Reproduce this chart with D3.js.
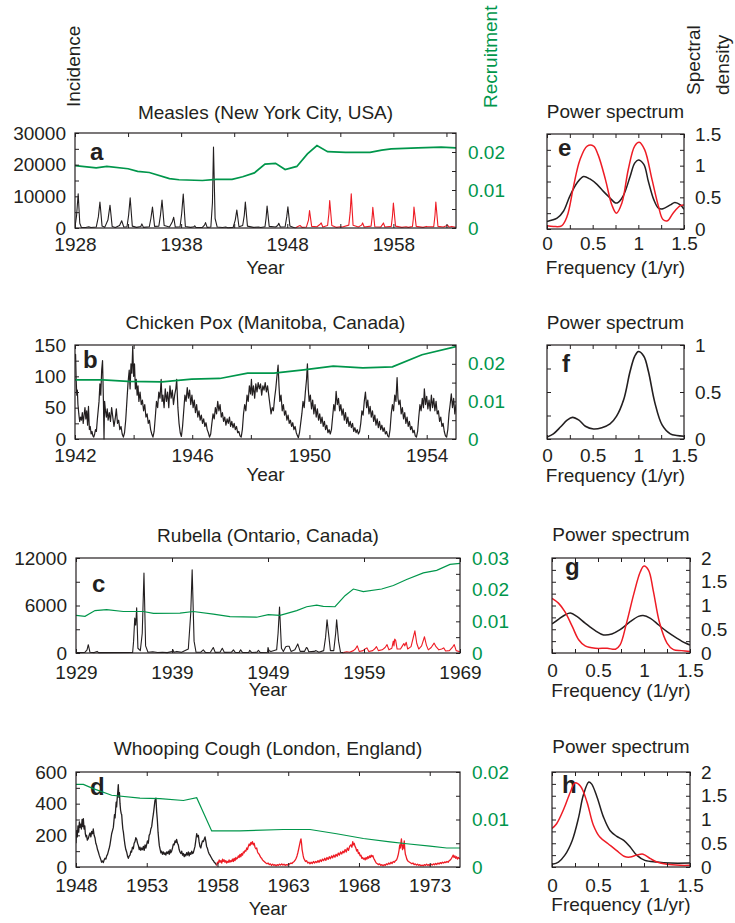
<!DOCTYPE html>
<html>
<head>
<meta charset="utf-8">
<script src="https://cdn.jsdelivr.net/npm/d3@7"></script>
<style>
  body { margin: 0; background: #fff; }
  text { font-family: "Liberation Sans", Arial, Helvetica, sans-serif; }
</style>
</head>
<body>
<script>
// ---------------- Measles (New York City) ----------------
const measlesEarly = [[1928.0,300],[1928.15,4000],[1928.3,10800],[1928.45,1500],[1928.6,200],[1929.0,150],[1929.3,400],[1929.5,150],[1930.0,300],[1930.2,3500],[1930.35,8200],[1930.55,600],[1930.8,200],[1931.1,2500],[1931.3,7200],[1931.5,500],[1931.8,150],[1932.2,800],[1932.4,2300],[1932.6,300],[1932.9,400],[1933.05,4000],[1933.2,9500],[1933.4,600],[1933.8,200],[1934.2,500],[1934.3,1300],[1934.45,200],[1935.0,400],[1935.15,3000],[1935.3,6600],[1935.5,500],[1935.9,600],[1936.05,4000],[1936.2,8800],[1936.4,800],[1936.9,300],[1937.15,1800],[1937.3,3400],[1937.45,300],[1937.9,400],[1938.05,4500],[1938.2,10700],[1938.4,500],[1938.9,200],[1939.2,400],[1939.28,700],[1939.4,150],[1940.0,200],[1940.2,900],[1940.3,1700],[1940.45,200],[1940.8,300],[1940.95,8000],[1941.05,25600],[1941.2,3000],[1941.4,300],[1941.9,150],[1942.2,300],[1942.4,100],[1942.9,200],[1943.1,2500],[1943.25,5700],[1943.45,400],[1943.8,800],[1943.95,4000],[1944.05,8200],[1944.25,600],[1944.8,200],[1945.3,300],[1945.5,150],[1945.9,400],[1946.0,3000],[1946.1,6900],[1946.3,500],[1946.9,300],[1947.1,800],[1947.2,1500],[1947.35,300],[1947.8,400],[1947.95,3500],[1948.06,6700],[1948.25,600],[1948.6,150],[1948.8,100]];
const measlesLate = [[1948.8,100],[1949.0,500],[1949.2,800],[1949.4,200],[1949.8,300],[1950.0,2500],[1950.1,5500],[1950.3,500],[1950.8,400],[1951.1,1200],[1951.2,1600],[1951.35,300],[1951.8,800],[1951.92,4500],[1952.0,8700],[1952.2,800],[1952.6,200],[1953.0,400],[1953.2,300],[1953.8,900],[1953.93,5000],[1954.03,10800],[1954.2,900],[1954.7,300],[1955.0,900],[1955.1,1600],[1955.25,300],[1955.9,600],[1956.0,3500],[1956.06,6500],[1956.25,400],[1956.8,300],[1957.0,1200],[1957.06,1600],[1957.2,300],[1957.8,500],[1957.92,4000],[1958.0,7900],[1958.2,600],[1958.8,200],[1959.2,400],[1959.4,200],[1959.8,500],[1959.88,3000],[1959.94,6600],[1960.15,500],[1960.8,200],[1961.1,500],[1961.2,400],[1961.8,400],[1961.92,4000],[1962.0,8200],[1962.2,500],[1962.7,300],[1963.0,700],[1963.1,900],[1963.25,300],[1963.5,500],[1963.9,200]];
const measlesRecruit = [[1928.0,0.0164],[1930.0,0.0158],[1931.0,0.0162],[1933.0,0.0156],[1933.9,0.0149],[1935.0,0.0146],[1936.9,0.0130],[1937.8,0.0127],[1940.0,0.0125],[1941.3,0.0128],[1942.8,0.0128],[1943.8,0.0135],[1944.9,0.0145],[1945.9,0.0168],[1946.9,0.0170],[1947.8,0.0154],[1948.9,0.0162],[1949.9,0.0195],[1950.8,0.0217],[1951.8,0.0201],[1953.5,0.0199],[1955.8,0.0199],[1956.9,0.0205],[1957.8,0.0208],[1960.3,0.0211],[1962.5,0.0213],[1963.9,0.0211]];

// ---------------- Chicken pox (Manitoba) ----------------
const chickenpoxCases = [
  [1942.00,128],[1942.02,135],[1942.04,95],[1942.06,70],[1942.08,78],[1942.10,55],[1942.13,40],[1942.16,28],[1942.19,35],[1942.22,30],[1942.25,42],[1942.28,25],[1942.31,38],[1942.34,50],[1942.37,32],[1942.40,45],[1942.43,22],[1942.46,52],[1942.49,15],[1942.52,20],[1942.55,8],[1942.58,12],[1942.61,5],[1942.64,3],[1942.67,8],[1942.70,15],[1942.73,12],[1942.76,30],[1942.79,45],[1942.82,60],[1942.85,88],[1942.88,70],[1942.91,110],[1942.94,125],[1942.97,60],[1942.99,0],[1943.01,60],
  [1943.04,45],[1943.07,35],[1943.10,48],[1943.13,30],[1943.17,42],[1943.21,28],[1943.25,50],[1943.29,35],[1943.33,20],[1943.37,32],[1943.41,48],[1943.45,25],[1943.49,30],[1943.53,15],[1943.57,20],[1943.61,8],[1943.65,3],[1943.69,10],[1943.73,30],[1943.77,60],[1943.81,90],[1943.85,110],[1943.88,80],[1943.91,120],[1943.94,105],[1943.97,148],[1944.00,100],
  [1944.03,120],[1944.06,80],[1944.09,95],[1944.12,70],[1944.15,85],[1944.18,60],[1944.22,75],[1944.26,55],[1944.30,62],[1944.34,45],[1944.38,55],[1944.42,35],[1944.46,40],[1944.50,25],[1944.54,30],[1944.58,15],[1944.62,8],[1944.66,3],[1944.70,12],[1944.74,35],[1944.78,60],[1944.82,50],[1944.86,75],[1944.90,65],[1944.94,95],[1944.97,60],[1945.00,70],
  [1945.04,50],[1945.08,80],[1945.12,60],[1945.16,75],[1945.20,50],[1945.24,85],[1945.28,65],[1945.32,78],[1945.36,55],[1945.40,70],[1945.44,80],[1945.47,95],[1945.51,50],[1945.55,25],[1945.59,10],[1945.63,4],[1945.67,20],[1945.71,45],[1945.75,70],[1945.79,60],[1945.83,82],[1945.87,65],[1945.91,78],[1945.95,55],[1945.99,70],
  [1946.03,50],[1946.07,62],[1946.11,42],[1946.15,55],[1946.19,35],[1946.23,45],[1946.27,30],[1946.31,38],[1946.35,25],[1946.39,32],[1946.43,20],[1946.47,26],[1946.51,15],[1946.55,10],[1946.59,3],[1946.63,8],[1946.67,25],[1946.71,40],[1946.75,32],[1946.79,50],[1946.83,40],[1946.87,60],[1946.91,45],[1946.95,55],[1946.99,35],
  [1947.03,42],[1947.07,28],[1947.11,35],[1947.15,22],[1947.19,32],[1947.23,25],[1947.27,35],[1947.31,20],[1947.35,28],[1947.39,18],[1947.43,25],[1947.47,15],[1947.51,20],[1947.55,10],[1947.59,12],[1947.63,5],[1947.67,3],[1947.71,15],[1947.75,40],[1947.79,55],[1947.83,45],[1947.87,70],[1947.91,60],[1947.95,85],[1947.99,72],[1948.02,95],
  [1948.05,70],[1948.09,85],[1948.13,65],[1948.17,88],[1948.21,75],[1948.25,90],[1948.29,80],[1948.33,88],[1948.37,70],[1948.41,85],[1948.45,78],[1948.49,90],[1948.53,75],[1948.57,85],[1948.61,70],[1948.65,55],[1948.69,40],[1948.73,50],[1948.77,45],[1948.81,65],[1948.85,80],[1948.89,100],[1948.93,118],[1948.96,85],[1948.99,60],
  [1949.03,70],[1949.07,45],[1949.11,55],[1949.15,38],[1949.19,45],[1949.23,30],[1949.27,38],[1949.31,25],[1949.35,30],[1949.39,20],[1949.43,26],[1949.47,15],[1949.51,20],[1949.55,10],[1949.59,5],[1949.62,2],[1949.66,10],[1949.70,25],[1949.74,40],[1949.78,60],[1949.82,50],[1949.86,75],[1949.90,95],[1949.93,120],[1949.96,80],[1949.99,60],
  [1950.03,70],[1950.07,48],[1950.11,62],[1950.15,40],[1950.19,55],[1950.23,35],[1950.27,48],[1950.31,30],[1950.35,40],[1950.39,25],[1950.43,35],[1950.47,20],[1950.51,28],[1950.55,15],[1950.59,22],[1950.63,10],[1950.67,15],[1950.71,8],[1950.75,15],[1950.79,35],[1950.83,55],[1950.87,45],[1950.91,76],[1950.95,55],[1950.99,65],
  [1951.03,45],[1951.07,55],[1951.11,38],[1951.15,48],[1951.19,30],[1951.23,42],[1951.27,25],[1951.31,35],[1951.35,20],[1951.39,28],[1951.43,18],[1951.47,25],[1951.51,12],[1951.55,18],[1951.59,10],[1951.63,15],[1951.67,8],[1951.71,12],[1951.75,25],[1951.79,45],[1951.83,38],[1951.87,60],[1951.91,75],[1951.95,50],[1951.99,62],
  [1952.03,40],[1952.07,52],[1952.11,35],[1952.15,45],[1952.19,28],[1952.23,38],[1952.27,22],[1952.31,32],[1952.35,18],[1952.39,28],[1952.43,15],[1952.47,22],[1952.51,12],[1952.55,18],[1952.59,8],[1952.63,12],[1952.67,5],[1952.71,3],[1952.75,15],[1952.79,40],[1952.83,55],[1952.87,45],[1952.91,70],[1952.95,60],[1952.99,98],
  [1953.02,65],[1953.05,55],[1953.09,62],[1953.13,40],[1953.17,50],[1953.21,32],[1953.25,42],[1953.29,25],[1953.33,35],[1953.37,20],[1953.41,28],[1953.45,15],[1953.49,20],[1953.53,10],[1953.57,14],[1953.61,5],[1953.65,3],[1953.69,12],[1953.73,35],[1953.77,55],[1953.81,45],[1953.85,65],[1953.89,50],[1953.92,80],[1953.96,55],
  [1954.00,68],[1954.04,48],[1954.08,62],[1954.12,45],[1954.16,70],[1954.20,50],[1954.24,65],[1954.28,45],[1954.32,60],[1954.36,40],[1954.40,45],[1954.44,28],[1954.48,35],[1954.52,20],[1954.56,25],[1954.60,12],[1954.64,5],[1954.68,3],[1954.72,15],[1954.76,40],[1954.80,55],[1954.84,72],[1954.88,50],[1954.92,65],[1954.96,40],[1955.00,55]
];
const chickenpoxRecruit = [[1942.0,0.0157],[1942.95,0.0157],[1943.8,0.0153],[1944.97,0.0152],[1945.98,0.0159],[1946.94,0.0161],[1947.89,0.0175],[1948.79,0.0175],[1949.8,0.0184],[1950.81,0.0194],[1951.82,0.0189],[1952.83,0.0192],[1953.84,0.0224],[1955.0,0.0246]];

// ---------------- Rubella (Ontario) ----------------
const rubellaEarly = [[1929.0,50],[1929.9,60],[1930.15,400],[1930.28,1050],[1930.45,100],[1930.9,50],[1931.2,200],[1931.35,50],[1934.9,60],[1935.0,1500],[1935.12,4400],[1935.22,3500],[1935.32,5700],[1935.45,600],[1935.7,300],[1935.9,2500],[1936.08,10100],[1936.25,900],[1936.5,100],[1937.0,150],[1937.5,60],[1938.0,100],[1938.5,50],[1939.0,200],[1939.1,400],[1939.2,100],[1939.5,200],[1940.0,80],[1940.7,500],[1940.95,5000],[1941.1,10500],[1941.3,1500],[1941.5,100],[1942.0,100],[1942.26,400],[1942.5,60],[1943.0,100],[1943.3,700],[1943.5,80],[1944.0,100],[1944.24,600],[1944.45,80],[1945.2,100],[1945.4,400],[1945.6,60],[1946.0,80],[1946.15,400],[1946.35,60],[1947.0,80],[1947.1,350],[1947.3,60],[1947.85,100],[1948.0,350],[1948.2,60],[1948.95,100],[1949.0,700],[1949.1,300],[1949.3,200],[1949.9,400],[1950.05,2500],[1950.2,5800],[1950.4,600],[1950.6,200],[1950.85,800],[1951.0,850],[1951.2,850],[1951.4,200],[1951.8,400],[1952.1,1150],[1952.35,200],[1952.8,200],[1953.0,700],[1953.1,600],[1953.25,150],[1953.8,200],[1954.0,300],[1954.3,100],[1954.8,300],[1955.0,2000],[1955.15,4200],[1955.35,2000],[1955.5,300],[1955.85,300],[1956.05,2500],[1956.15,4200],[1956.35,1500],[1956.55,100],[1956.85,50]];
const rubellaLate = [[1956.85,50],[1957.2,150],[1957.5,100],[1957.9,300],[1958.1,500],[1958.3,900],[1958.5,200],[1958.9,300],[1959.1,500],[1959.3,650],[1959.5,200],[1959.9,300],[1960.1,500],[1960.3,800],[1960.5,300],[1960.9,400],[1961.2,700],[1961.4,1050],[1961.6,400],[1961.9,600],[1962.05,1500],[1962.12,900],[1962.2,1750],[1962.3,1600],[1962.45,500],[1962.8,500],[1963.0,900],[1963.15,1200],[1963.25,900],[1963.4,1350],[1963.55,500],[1963.9,800],[1964.1,1800],[1964.3,2800],[1964.5,1200],[1964.7,500],[1965.0,900],[1965.3,2050],[1965.5,1000],[1965.7,400],[1966.0,700],[1966.3,1250],[1966.5,800],[1966.8,400],[1967.1,500],[1967.3,650],[1967.5,250],[1967.9,300],[1968.2,700],[1968.4,1050],[1968.6,300],[1969.0,150]];
const rubellaRecruit = [[1929.0,0.0119],[1929.94,0.0116],[1930.98,0.0134],[1932.19,0.0137],[1933.93,0.0131],[1936.01,0.0131],[1937.06,0.0125],[1939.83,0.0126],[1941.22,0.0131],[1943.31,0.0123],[1945.04,0.0115],[1947.82,0.0113],[1949.03,0.0121],[1950.25,0.0119],[1951.99,0.0134],[1953.03,0.0146],[1954.07,0.0151],[1954.76,0.0147],[1955.98,0.0146],[1957.02,0.0181],[1957.89,0.0202],[1958.93,0.0194],[1960.84,0.0202],[1962.06,0.0213],[1963.44,0.0232],[1965.18,0.0253],[1966.57,0.0261],[1967.96,0.0280],[1969.0,0.0283]];

// ---------------- Whooping cough (London) ----------------
const pertussisEarly = [[1948.0,150],[1948.04,230],[1948.09,190],[1948.14,260],[1948.19,220],[1948.24,285],[1948.28,250],[1948.33,270],[1948.38,240],[1948.43,300],[1948.48,255],[1948.52,305],[1948.57,240],[1948.62,260],[1948.66,210],[1948.71,190],[1948.75,200],[1948.8,170],[1948.87,180],[1948.93,200],[1948.99,215],[1949.05,190],[1949.11,225],[1949.17,210],[1949.22,240],[1949.28,200],[1949.34,185],[1949.4,150],[1949.46,135],[1949.52,110],[1949.58,95],[1949.64,75],[1949.7,60],[1949.76,45],[1949.81,30],[1949.87,38],[1949.93,28],[1949.99,45],[1950.05,55],[1950.11,50],[1950.17,70],[1950.23,80],[1950.29,100],[1950.35,120],[1950.4,140],[1950.46,175],[1950.52,210],[1950.58,230],[1950.64,250],[1950.68,290],[1950.72,330],[1950.76,310],[1950.8,360],[1950.84,410],[1950.87,380],[1950.91,430],[1950.95,470],[1950.99,520],[1951.03,440],[1951.07,470],[1951.11,400],[1951.15,360],[1951.19,340],[1951.23,330],[1951.27,280],[1951.31,240],[1951.35,220],[1951.4,180],[1951.46,140],[1951.52,110],[1951.58,95],[1951.64,70],[1951.7,55],[1951.76,70],[1951.82,75],[1951.88,100],[1951.93,95],[1951.99,125],[1952.05,115],[1952.11,150],[1952.17,160],[1952.23,185],[1952.29,175],[1952.35,150],[1952.41,135],[1952.47,110],[1952.52,125],[1952.58,105],[1952.64,120],[1952.7,110],[1952.76,130],[1952.82,105],[1952.88,140],[1952.94,120],[1952.99,140],[1953.05,165],[1953.11,150],[1953.17,200],[1953.23,210],[1953.29,240],[1953.35,255],[1953.41,300],[1953.47,335],[1953.53,380],[1953.58,420],[1953.65,435],[1953.7,350],[1953.75,295],[1953.8,220],[1953.85,170],[1953.89,135],[1953.95,110],[1954.0,90],[1954.05,100],[1954.11,80],[1954.17,95],[1954.23,80],[1954.29,90],[1954.35,75],[1954.41,95],[1954.47,85],[1954.53,100],[1954.59,80],[1954.65,110],[1954.7,90],[1954.76,100],[1954.82,120],[1954.88,145],[1954.94,140],[1955.0,165],[1955.06,155],[1955.11,175],[1955.17,150],[1955.23,140],[1955.29,110],[1955.35,95],[1955.41,85],[1955.47,100],[1955.53,75],[1955.59,85],[1955.65,65],[1955.7,80],[1955.76,70],[1955.82,90],[1955.88,75],[1955.94,95],[1956.0,70],[1956.06,90],[1956.12,80],[1956.18,100],[1956.24,85],[1956.29,90],[1956.35,110],[1956.41,130],[1956.47,170],[1956.53,210],[1956.59,190],[1956.65,200],[1956.7,160],[1956.76,130],[1956.82,120],[1956.88,145],[1956.94,165],[1957.0,160],[1957.06,175],[1957.12,190],[1957.18,160],[1957.23,130],[1957.28,120],[1957.34,100],[1957.4,85],[1957.47,75],[1957.53,65],[1957.59,55],[1957.65,45],[1957.71,40],[1957.77,30],[1957.83,25],[1957.88,20],[1957.94,10]];
const pertussisLate = [[1957.94,10],[1958.0,30],[1958.06,25],[1958.12,45],[1958.18,30],[1958.24,40],[1958.3,25],[1958.36,50],[1958.41,35],[1958.47,45],[1958.53,30],[1958.59,40],[1958.65,25],[1958.7,35],[1958.76,30],[1958.82,45],[1958.88,30],[1958.94,40],[1959.0,35],[1959.06,50],[1959.12,35],[1959.18,55],[1959.24,40],[1959.3,60],[1959.35,50],[1959.41,55],[1959.47,70],[1959.53,60],[1959.59,80],[1959.65,65],[1959.71,85],[1959.77,75],[1959.83,95],[1959.89,90],[1959.95,105],[1960.01,100],[1960.07,120],[1960.12,110],[1960.18,130],[1960.24,145],[1960.3,135],[1960.36,155],[1960.41,145],[1960.47,160],[1960.53,140],[1960.59,150],[1960.65,125],[1960.71,115],[1960.77,120],[1960.83,95],[1960.89,85],[1960.95,80],[1961.0,70],[1961.06,60],[1961.12,55],[1961.18,45],[1961.24,40],[1961.3,35],[1961.36,30],[1961.42,25],[1961.5,20],[1961.58,25],[1961.66,15],[1961.74,20],[1961.82,10],[1961.9,18],[1961.98,10],[1962.06,15],[1962.14,8],[1962.22,15],[1962.3,10],[1962.38,18],[1962.46,12],[1962.54,20],[1962.62,12],[1962.7,18],[1962.78,10],[1962.86,15],[1962.94,12],[1963.02,20],[1963.1,18],[1963.18,25],[1963.26,22],[1963.34,30],[1963.42,35],[1963.5,45],[1963.56,55],[1963.62,70],[1963.68,90],[1963.74,115],[1963.8,140],[1963.86,165],[1963.9,178],[1963.94,150],[1963.98,110],[1964.02,90],[1964.06,70],[1964.1,55],[1964.16,45],[1964.22,35],[1964.3,40],[1964.38,25],[1964.46,30],[1964.54,20],[1964.62,30],[1964.7,22],[1964.78,35],[1964.86,25],[1964.94,35],[1965.02,28],[1965.1,40],[1965.18,30],[1965.26,45],[1965.34,35],[1965.42,50],[1965.5,40],[1965.58,55],[1965.66,42],[1965.74,60],[1965.82,48],[1965.9,65],[1965.98,52],[1966.06,70],[1966.14,58],[1966.22,75],[1966.3,62],[1966.38,80],[1966.46,68],[1966.54,88],[1966.62,75],[1966.7,95],[1966.78,82],[1966.86,100],[1966.94,90],[1967.02,110],[1967.1,95],[1967.18,120],[1967.26,105],[1967.34,130],[1967.42,140],[1967.5,125],[1967.56,160],[1967.6,140],[1967.66,150],[1967.72,130],[1967.78,120],[1967.84,100],[1967.9,110],[1967.96,85],[1968.02,90],[1968.08,70],[1968.14,75],[1968.2,55],[1968.26,60],[1968.32,50],[1968.38,55],[1968.44,45],[1968.5,60],[1968.56,50],[1968.62,65],[1968.68,55],[1968.74,70],[1968.8,60],[1968.86,75],[1968.92,65],[1968.98,72],[1969.04,55],[1969.1,45],[1969.16,35],[1969.22,25],[1969.3,20],[1969.38,15],[1969.46,20],[1969.54,10],[1969.62,15],[1969.7,8],[1969.78,15],[1969.86,10],[1969.94,20],[1970.02,15],[1970.1,25],[1970.18,18],[1970.26,30],[1970.34,22],[1970.42,35],[1970.5,30],[1970.58,40],[1970.66,45],[1970.72,60],[1970.78,80],[1970.84,110],[1970.88,140],[1970.92,120],[1970.96,150],[1971.0,178],[1971.04,130],[1971.08,110],[1971.12,140],[1971.16,120],[1971.2,165],[1971.24,110],[1971.28,80],[1971.32,70],[1971.38,50],[1971.44,40],[1971.5,35],[1971.58,30],[1971.66,25],[1971.74,20],[1971.82,25],[1971.9,15],[1971.98,20],[1972.06,12],[1972.14,18],[1972.22,10],[1972.3,15],[1972.38,8],[1972.46,12],[1972.54,8],[1972.62,15],[1972.7,10],[1972.78,18],[1972.86,10],[1972.94,15],[1973.02,10],[1973.1,18],[1973.18,12],[1973.26,20],[1973.34,14],[1973.42,22],[1973.5,16],[1973.58,25],[1973.66,18],[1973.74,28],[1973.82,22],[1973.9,30],[1973.98,25],[1974.06,32],[1974.14,28],[1974.22,35],[1974.3,30],[1974.38,40],[1974.46,45],[1974.54,55],[1974.6,65],[1974.66,75],[1974.72,60],[1974.78,70],[1974.84,55],[1974.9,65],[1974.96,50],[1975.02,60],[1975.08,55],[1975.14,50]];
const pertussisRecruit = [[1948.0,0.0174],[1948.52,0.0174],[1949.22,0.0165],[1950.52,0.0151],[1952.52,0.0145],[1953.94,0.0144],[1955.59,0.0140],[1956.53,0.0146],[1957.59,0.0076],[1959.59,0.0076],[1962.65,0.0079],[1964.54,0.0079],[1966.42,0.0070],[1968.31,0.0060],[1970.19,0.0053],[1971.37,0.0049],[1973.02,0.0044],[1974.2,0.0040],[1975.14,0.0040]];

// ---------------- Power spectra (frequency in 1/yr, spectral density) ----------------
const measlesSpecEarly = [[0,0.12],[0.11,0.17],[0.18,0.28],[0.25,0.52],[0.33,0.73],[0.40,0.83],[0.47,0.79],[0.55,0.70],[0.62,0.59],[0.69,0.49],[0.75,0.41],[0.78,0.42],[0.84,0.54],[0.91,0.83],[0.96,1.04],[1.0,1.09],[1.06,1.02],[1.11,0.75],[1.17,0.46],[1.22,0.33],[1.27,0.32],[1.35,0.38],[1.40,0.42],[1.46,0.38],[1.5,0.31]];
const measlesSpecLate = [[0,0.05],[0.07,0.04],[0.16,0.05],[0.22,0.20],[0.29,0.67],[0.36,1.09],[0.44,1.31],[0.51,1.31],[0.56,1.17],[0.64,0.78],[0.71,0.38],[0.76,0.25],[0.82,0.41],[0.89,0.94],[0.96,1.31],[1.01,1.37],[1.07,1.25],[1.15,0.78],[1.22,0.36],[1.27,0.15],[1.32,0.13],[1.38,0.25],[1.46,0.37],[1.5,0.38]];
const chickenpoxSpec = [[0,0.02],[0.07,0.055],[0.15,0.13],[0.22,0.20],[0.28,0.23],[0.35,0.20],[0.42,0.136],[0.51,0.107],[0.6,0.12],[0.69,0.16],[0.76,0.24],[0.84,0.42],[0.91,0.72],[0.96,0.88],[1.0,0.93],[1.06,0.88],[1.11,0.72],[1.18,0.39],[1.26,0.15],[1.35,0.055],[1.42,0.037],[1.5,0.03]];
const rubellaSpecEarly = [[0,0.61],[0.07,0.71],[0.14,0.80],[0.2,0.84],[0.27,0.77],[0.36,0.63],[0.47,0.47],[0.56,0.38],[0.65,0.40],[0.74,0.49],[0.85,0.66],[0.94,0.77],[0.99,0.79],[1.07,0.73],[1.16,0.59],[1.25,0.45],[1.36,0.31],[1.45,0.21],[1.5,0.17]];
const rubellaSpecLate = [[0,1.15],[0.07,1.05],[0.14,0.87],[0.22,0.56],[0.29,0.28],[0.36,0.15],[0.47,0.10],[0.6,0.10],[0.69,0.08],[0.74,0.17],[0.81,0.63],[0.89,1.25],[0.96,1.71],[1.0,1.83],[1.05,1.74],[1.10,1.32],[1.17,0.63],[1.25,0.21],[1.32,0.07],[1.41,0.05],[1.5,0.03]];
const pertussisSpecEarly = [[0,0.056],[0.07,0.105],[0.14,0.25],[0.22,0.56],[0.29,1.05],[0.34,1.51],[0.4,1.79],[0.43,1.75],[0.49,1.47],[0.56,1.05],[0.63,0.77],[0.70,0.65],[0.78,0.56],[0.85,0.42],[0.92,0.25],[1.01,0.14],[1.14,0.105],[1.28,0.084],[1.5,0.084]];
const pertussisSpecLate = [[0,0.81],[0.05,0.91],[0.13,1.23],[0.2,1.58],[0.25,1.77],[0.31,1.70],[0.38,1.37],[0.45,0.88],[0.52,0.63],[0.61,0.49],[0.70,0.35],[0.79,0.22],[0.85,0.21],[0.92,0.25],[0.99,0.27],[1.07,0.175],[1.14,0.105],[1.25,0.056],[1.39,0.035],[1.5,0.035]];

// ---------------- Axis ticks and labels ----------------
const measlesYearTicks = [1928,1933,1938,1943,1948,1953,1958,1963];
const measlesYearLabels = [1928,1938,1948,1958];
const measlesCaseTicks = [0,5000,10000,15000,20000,25000,30000];
const measlesCaseLabels = [0,10000,20000,30000];
const chickenpoxYearTicks = [1942,1944,1946,1948,1950,1952,1954];
const chickenpoxYearLabels = [1942,1946,1950,1954];
const chickenpoxCaseTicks = [0,25,50,75,100,125,150];
const chickenpoxCaseLabels = [0,50,100,150];
const rubellaYearTicks = [1929,1939,1949,1959,1969];
const rubellaYearLabels = [1929,1939,1949,1959,1969];
const rubellaCaseTicks = [0,3000,6000,9000,12000];
const rubellaCaseLabels = [0,6000,12000];
const pertussisYearTicks = [1948,1953,1958,1963,1968,1973];
const pertussisYearLabels = [1948,1953,1958,1963,1968,1973];
const pertussisCaseTicks = [0,100,200,300,400,500,600];
const pertussisCaseLabels = [0,200,400,600];
const recruitTicks = [0,0.005,0.01,0.015,0.02,0.025,0.03];
const recruitLabels = [0,0.01,0.02,0.03];
const freqTicks = [0,0.25,0.5,0.75,1,1.25,1.5];
const freqLabels = [0,0.5,1,1.5];
const densityTicks = [0,0.25,0.5,0.75,1,1.25,1.5,1.75,2];
const densityLabels = [0,0.5,1,1.5,2];

// ---------------- Drawing ----------------
const INK = "#231f20", GREEN = "#00964b", RED = "#ee1c25";
const FONT = 19;
const svg = d3.select("body").append("svg").attr("width", 735).attr("height", 923);

let clipCount = 0;
function labelFmt(list) { return v => list.includes(v) ? String(v) : ""; }

function styleAxis(sel, color) {
  sel.select(".domain").remove();
  sel.selectAll("line").attr("stroke", INK).attr("stroke-width", 1);
  sel.selectAll("text").attr("font-size", FONT).attr("fill", color || INK)
     .attr("font-family", "Liberation Sans, Arial, Helvetica, sans-serif");
  sel.attr("font-size", null).attr("font-family", null);
}

function panel(p) {
  const [x0, x1, y0, y1] = p.box;
  const g = svg.append("g");
  const x = d3.scaleLinear().domain(p.xDomain).range([x0, x1]);
  const y = d3.scaleLinear().domain(p.yDomain).range([y1, y0]);
  const id = "clip" + (clipCount++);
  svg.append("clipPath").attr("id", id).append("rect")
    .attr("x", x0).attr("y", y0 - 2).attr("width", x1 - x0).attr("height", y1 - y0 + 3);

  // panel letter
  g.append("text").attr("x", p.letter[1]).attr("y", p.letter[2])
    .attr("font-size", 24).attr("font-weight", "bold").attr("fill", INK).text(p.letter[0]);

  const plot = g.append("g").attr("clip-path", `url(#${id})`);
  const line = d3.line().x(d => x(d[0])).y(d => y(d[1]));
  const smooth = d3.line().x(d => x(d[0])).y(d => y(d[1])).curve(d3.curveCatmullRom.alpha(0.5));

  const r = p.rDomain ? d3.scaleLinear().domain(p.rDomain).range([y1, y0]) : null;
  (p.series || []).forEach(s => {
    plot.append("path").datum(s.data).attr("fill", "none").attr("stroke", s.color)
      .attr("stroke-width", s.width || 1.1).attr("stroke-linejoin", "round")
      .attr("d", s.smooth ? smooth(s.data) : line(s.data));
  });
  if (p.recruit) {
    const rl = d3.line().x(d => x(d[0])).y(d => r(d[1]));
    plot.append("path").attr("fill", "none").attr("stroke", GREEN)
      .attr("stroke-width", p.recruitWidth || 1.7).attr("d", rl(p.recruit));
  }

  // frame
  g.append("rect").attr("x", x0).attr("y", y0).attr("width", x1 - x0).attr("height", y1 - y0)
    .attr("fill", "none").attr("stroke", INK).attr("stroke-width", 1.2);

  // axes: ticks point inward on all four sides
  g.append("g").attr("transform", `translate(0,${y1})`)
    .call(d3.axisBottom(x).tickValues(p.xTicks).tickFormat(labelFmt(p.xLabels))
      .tickSizeInner(-4).tickSizeOuter(0).tickPadding(p.xPad))
    .call(s => styleAxis(s));
  g.append("g").attr("transform", `translate(0,${y0})`)
    .call(d3.axisTop(x).tickValues(p.xTicks).tickFormat("").tickSizeInner(-4).tickSizeOuter(0))
    .call(s => styleAxis(s));
  g.append("g").attr("transform", `translate(${x0},0)`)
    .call(d3.axisLeft(y).tickValues(p.yTicks).tickFormat(p.leftLabels ? labelFmt(p.yLabels) : "")
      .tickSizeInner(-4).tickSizeOuter(0).tickPadding(9))
    .call(s => styleAxis(s));
  if (r) {
    g.append("g").attr("transform", `translate(${x1},0)`)
      .call(d3.axisRight(r).tickValues(p.rTicks).tickFormat(labelFmt(p.rLabels))
        .tickSizeInner(-4).tickSizeOuter(0).tickPadding(12))
      .call(s => styleAxis(s, GREEN));
  } else {
    g.append("g").attr("transform", `translate(${x1},0)`)
      .call(d3.axisRight(y).tickValues(p.yTicks).tickFormat(p.leftLabels ? "" : labelFmt(p.yLabels))
        .tickSizeInner(-4).tickSizeOuter(0).tickPadding(11))
      .call(s => styleAxis(s));
  }

  // title and axis caption
  const cx = (x0 + x1) / 2;
  svg.append("text").attr("x", cx).attr("y", p.titleY).attr("text-anchor", "middle")
    .attr("font-size", FONT).attr("fill", INK).text(p.title);
  svg.append("text").attr("x", cx).attr("y", p.captionY).attr("text-anchor", "middle")
    .attr("font-size", FONT).attr("fill", INK).text(p.caption);
}

const recruitTicksTo = m => recruitTicks.filter(v => v <= m + 1e-9);

// a: measles
panel({
  box: [75, 456, 133, 228], xDomain: [1928, 1963.9], yDomain: [0, 30000], rDomain: [0, 0.025],
  xTicks: measlesYearTicks, xLabels: measlesYearLabels, xPad: 10,
  yTicks: measlesCaseTicks, yLabels: measlesCaseLabels, leftLabels: true,
  rTicks: recruitTicksTo(0.025), rLabels: recruitLabels,
  series: [{ data: measlesEarly, color: INK }, { data: measlesLate, color: RED }],
  recruit: measlesRecruit,
  letter: ["a", 90, 160], title: "Measles (New York City, USA)", titleY: 119,
  caption: "Year", captionY: 274
});
// b: chicken pox
panel({
  box: [75, 456, 345, 439], xDomain: [1942, 1955], yDomain: [0, 150], rDomain: [0, 0.025],
  xTicks: chickenpoxYearTicks, xLabels: chickenpoxYearLabels, xPad: 10,
  yTicks: chickenpoxCaseTicks, yLabels: chickenpoxCaseLabels, leftLabels: true,
  rTicks: recruitTicksTo(0.025), rLabels: recruitLabels,
  series: [{ data: chickenpoxCases, color: INK, width: 1.2 }],
  recruit: chickenpoxRecruit,
  letter: ["b", 83, 368], title: "Chicken Pox (Manitoba, Canada)", titleY: 329,
  caption: "Year", captionY: 481
});
// c: rubella
panel({
  box: [76, 460, 558, 653], xDomain: [1929, 1969], yDomain: [0, 12000], rDomain: [0, 0.03],
  xTicks: rubellaYearTicks, xLabels: rubellaYearLabels, xPad: 13,
  yTicks: rubellaCaseTicks, yLabels: rubellaCaseLabels, leftLabels: true,
  rTicks: recruitTicksTo(0.03), rLabels: recruitLabels,
  series: [{ data: rubellaEarly, color: INK }, { data: rubellaLate, color: RED }],
  recruit: rubellaRecruit, recruitWidth: 1.2,
  letter: ["c", 92, 592], title: "Rubella (Ontario, Canada)", titleY: 542,
  caption: "Year", captionY: 696
});
// d: whooping cough
panel({
  box: [76, 460, 772, 867], xDomain: [1948, 1975.14], yDomain: [0, 600], rDomain: [0, 0.02],
  xTicks: pertussisYearTicks, xLabels: pertussisYearLabels, xPad: 12,
  yTicks: pertussisCaseTicks, yLabels: pertussisCaseLabels, leftLabels: true,
  rTicks: recruitTicksTo(0.02), rLabels: recruitLabels,
  series: [{ data: pertussisEarly, color: INK, width: 1.3 }, { data: pertussisLate, color: RED, width: 1.3 }],
  recruit: pertussisRecruit, recruitWidth: 1.2,
  letter: ["d", 90, 795], title: "Whooping Cough (London, England)", titleY: 755,
  caption: "Year", captionY: 915
});

// e–h: power spectra
panel({
  box: [547, 684, 134, 229], xDomain: [0, 1.5], yDomain: [0, 1.5],
  xTicks: freqTicks, xLabels: freqLabels, xPad: 8,
  yTicks: densityTicks.filter(v => v <= 1.5), yLabels: densityLabels, leftLabels: false,
  series: [{ data: measlesSpecEarly, color: INK, width: 1.5, smooth: true },
           { data: measlesSpecLate, color: RED, width: 1.5, smooth: true }],
  letter: ["e", 558, 156], title: "Power spectrum", titleY: 118,
  caption: "Frequency (1/yr)", captionY: 274
});
panel({
  box: [547, 684, 345, 439], xDomain: [0, 1.5], yDomain: [0, 1],
  xTicks: freqTicks, xLabels: freqLabels, xPad: 10,
  yTicks: densityTicks.filter(v => v <= 1), yLabels: densityLabels, leftLabels: false,
  series: [{ data: chickenpoxSpec, color: INK, width: 1.6, smooth: true }],
  letter: ["f", 562, 372], title: "Power spectrum", titleY: 329,
  caption: "Frequency (1/yr)", captionY: 482
});
panel({
  box: [552, 690, 558, 653], xDomain: [0, 1.5], yDomain: [0, 2],
  xTicks: freqTicks, xLabels: freqLabels, xPad: 11,
  yTicks: densityTicks, yLabels: densityLabels, leftLabels: false,
  series: [{ data: rubellaSpecEarly, color: INK, width: 1.5, smooth: true },
           { data: rubellaSpecLate, color: RED, width: 1.5, smooth: true }],
  letter: ["g", 565, 575], title: "Power spectrum", titleY: 541,
  caption: "Frequency (1/yr)", captionY: 697
});
panel({
  box: [552, 690, 772, 867], xDomain: [0, 1.5], yDomain: [0, 2],
  xTicks: freqTicks, xLabels: freqLabels, xPad: 12,
  yTicks: densityTicks, yLabels: densityLabels, leftLabels: false,
  series: [{ data: pertussisSpecEarly, color: INK, width: 1.5, smooth: true },
           { data: pertussisSpecLate, color: RED, width: 1.5, smooth: true }],
  letter: ["h", 562, 793], title: "Power spectrum", titleY: 753,
  caption: "Frequency (1/yr)", captionY: 911
});

// vertical axis captions across the top
function vText(x, y, txt, color) {
  svg.append("text").attr("transform", `translate(${x},${y}) rotate(-90)`)
    .attr("font-size", FONT).attr("fill", color).text(txt);
}
vText(80, 107, "Incidence", INK);
vText(497, 108, "Recruitment", GREEN);
vText(700, 95, "Spectral", INK);
vText(729, 95, "density", INK);
</script>
</body>
</html>
